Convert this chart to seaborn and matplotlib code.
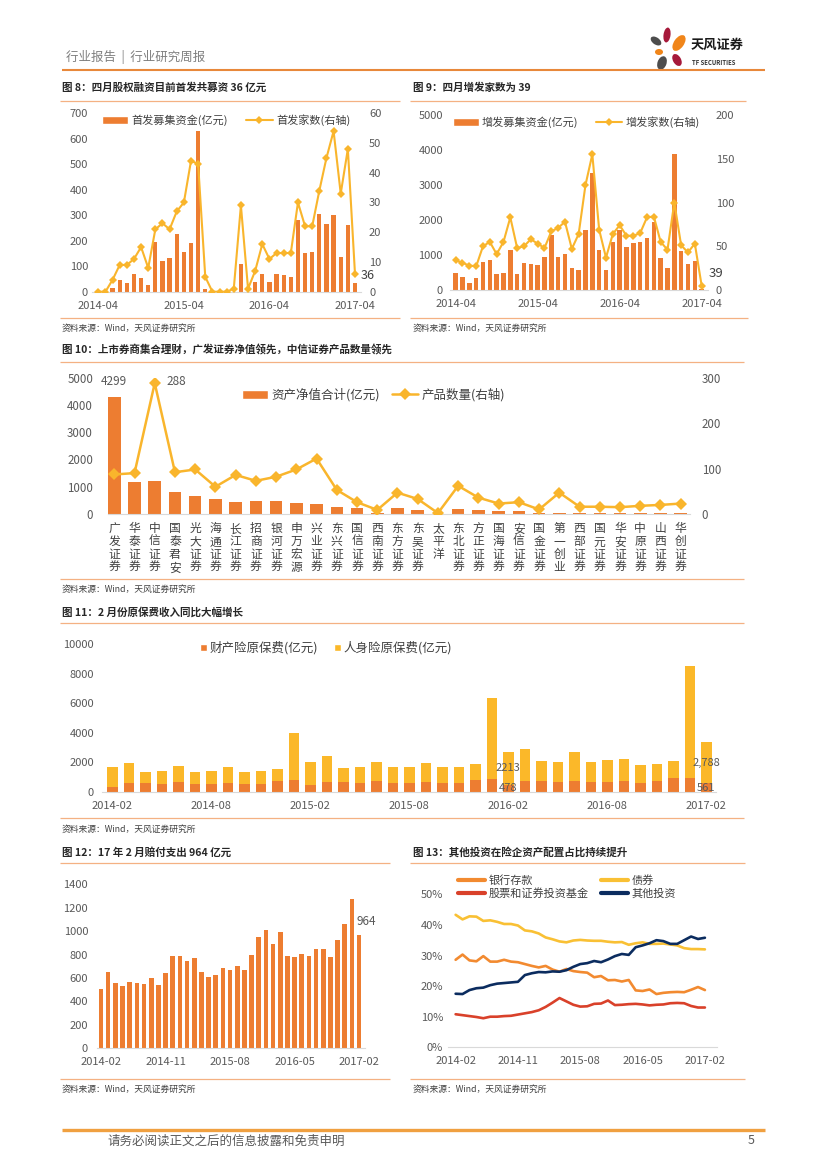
import numpy as np
import pandas as pd
import matplotlib
matplotlib.use("Agg")
import matplotlib.pyplot as plt
import seaborn as sns
from matplotlib.lines import Line2D
from matplotlib.patches import Patch, Ellipse

# ---------------- data ----------------
# Fig 8: IPO
ipo_months = pd.period_range("2014-04", "2017-04", freq="M").strftime("%Y-%m").tolist()
ipo_ticks = ["2014-04", "2015-04", "2016-04", "2017-04"]
ipo_amount = [0, 0, 15, 47, 35, 68, 55, 28, 195, 122, 133, 228, 155, 190, 630, 10, 0, 0, 0, 0,
              110, 0, 40, 70, 38, 68, 65, 58, 280, 152, 157, 305, 265, 300, 135, 262, 36]
ipo_count = [0, 0, 4, 9, 9, 11, 15, 8, 21, 23, 21, 27, 30, 44, 43, 5, 0, 0, 0, 1,
             29, 1, 7, 16, 11, 13, 13, 13, 30, 22, 22, 34, 45, 54, 33, 48, 6]

# Fig 9: secondary offerings
seo_months = ipo_months
seo_ticks = ipo_ticks
seo_amount = [495, 380, 210, 350, 810, 860, 450, 500, 1140, 470, 760, 750, 715, 950, 1570, 930,
              1030, 640, 570, 1710, 3330, 1140, 570, 1380, 1710, 1220, 1330, 1380, 1480, 1950,
              920, 620, 3900, 1120, 740, 830, 39]
seo_count = [34, 31, 28, 27, 50, 55, 41, 55, 83, 48, 50, 58, 53, 48, 67, 71, 78, 47, 64, 120,
             155, 69, 37, 64, 74, 62, 62, 65, 83, 84, 55, 46, 100, 51, 43, 53, 5]

# Fig 10: brokers' collective asset management
brokers = ["广发证券", "华泰证券", "中信证券", "国泰君安", "光大证券", "海通证券", "长江证券",
           "招商证券", "银河证券", "申万宏源", "兴业证券", "东兴证券", "国信证券", "西南证券",
           "东方证券", "东吴证券", "太平洋", "东北证券", "方正证券", "国海证券", "安信证券",
           "国金证券", "第一创业", "西部证券", "国元证券", "华安证券", "中原证券", "山西证券",
           "华创证券"]
broker_nav = [4299, 1190, 1210, 820, 672, 550, 452, 465, 465, 415, 367, 245, 232, 50, 220,
              147, 5, 170, 135, 120, 120, 35, 45, 35, 25, 20, 20, 20, 20]
broker_products = [87, 90, 288, 92, 98, 60, 86, 73, 82, 98, 122, 53, 26, 9, 47,
                   33, 2, 62, 36, 23, 26, 10, 47, 16, 16, 15, 18, 20, 23]

# Fig 11: premiums
prem_months = pd.period_range("2014-02", "2017-02", freq="M").strftime("%Y-%m").tolist()
prem_ticks = ["2014-02", "2014-08", "2015-02", "2015-08", "2016-02", "2016-08", "2017-02"]
prem_property = [340, 610, 610, 540, 660, 540, 540, 590, 520, 540, 720, 790, 450, 680, 660, 590,
                 720, 590, 590, 630, 570, 570, 770, 860, 478, 720, 720, 660, 720, 630, 630, 700,
                 590, 720, 930, 900, 561]
prem_life = [1360, 1340, 720, 860, 1060, 790, 880, 1110, 810, 860, 800, 3210, 1540, 1760, 950,
             1060, 1320, 1080, 1080, 1340, 1080, 1080, 1110, 5470, 2213, 2180, 1360, 1380, 1970,
             1380, 1500, 1490, 1240, 1130, 1150, 7630, 2788]

# Fig 12: claims
claims_months = prem_months
claims_ticks = ["2014-02", "2014-11", "2015-08", "2016-05", "2017-02"]
claims = [504, 649, 561, 532, 569, 555, 549, 598, 544, 640, 791, 791, 743, 771, 652, 609, 626,
          683, 669, 703, 669, 794, 950, 1013, 888, 993, 785, 777, 808, 791, 848, 848, 777, 925,
          1061, 1278, 964]

# Fig 13: asset allocation (%)
alloc_months = prem_months
alloc_ticks = claims_ticks
alloc_deposit = [28.6, 30.3, 28.4, 28.1, 29.8, 28.0, 28.0, 28.6, 28.0, 27.8, 27.2, 26.6, 26.1,
                 26.6, 25.4, 24.7, 25.6, 24.9, 24.6, 24.4, 22.9, 23.3, 21.9, 22.0, 21.5, 22.0,
                 18.6, 18.4, 18.9, 17.4, 17.8, 18.0, 18.1, 18.0, 18.8, 19.7, 18.7]
alloc_bond = [43.3, 41.8, 42.8, 42.7, 41.3, 41.5, 41.0, 40.3, 40.3, 39.8, 38.2, 37.9, 37.2, 35.9,
              35.3, 34.6, 34.3, 34.9, 35.1, 34.9, 34.8, 34.8, 34.5, 34.3, 34.4, 33.5, 34.0, 34.3,
              33.8, 33.8, 33.9, 33.6, 33.3, 32.4, 32.1, 32.1, 32.0]
alloc_equity = [10.8, 10.5, 10.2, 9.9, 9.5, 10.0, 10.0, 10.2, 10.3, 10.7, 11.1, 11.5, 12.1, 13.2,
                14.6, 16.1, 15.0, 13.9, 13.3, 13.4, 14.2, 14.3, 15.3, 13.8, 13.9, 14.1, 14.2,
                14.0, 13.7, 13.9, 14.0, 14.4, 14.5, 14.4, 13.5, 13.0, 13.0]
alloc_other = [17.5, 17.4, 18.7, 19.3, 19.5, 20.3, 20.8, 21.0, 21.2, 21.4, 23.6, 24.2, 24.6, 24.5,
               24.8, 24.7, 25.2, 26.3, 27.2, 27.5, 28.2, 27.8, 28.7, 29.8, 30.5, 30.2, 32.7, 33.3,
               34.0, 35.0, 34.7, 33.8, 33.8, 35.0, 36.2, 35.4, 35.8]

# ---------------- style ----------------
sns.set_theme(style="white")
plt.rcParams['font.family'] = ['Noto Sans CJK SC', 'DejaVu Sans']
plt.rcParams['axes.unicode_minus'] = False

ORANGE = '#ED7D31'
GOLD = '#F9B52C'
LIFE = '#FBB829'
GRAY = '#595959'
DARK = '#404040'
RULE = '#F4B183'
AXLINE = '#D9D9D9'

W, H = 827, 1169
fig = plt.figure(figsize=(W / 100, H / 100), dpi=100)
page = fig.add_axes([0, 0, 1, 1], zorder=-1)
page.set_xlim(0, W)
page.set_ylim(H, 0)
page.set_autoscale_on(False)
page.axis('off')


def px_axes(l, t, r, b):
    return fig.add_axes([l / W, 1 - b / H, (r - l) / W, (b - t) / H])


def ptxt(x, y, s, **kw):
    kw.setdefault('va', 'center')
    kw.setdefault('ha', 'left')
    page.text(x, y, s, **kw)


def prule(x0, x1, y, color=RULE, lw=0.9):
    page.plot([x0, x1], [y, y], color=color, lw=lw, solid_capstyle='butt')


def base_style(ax, lpad, fs=8):
    for s in ['top', 'right', 'left']:
        ax.spines[s].set_visible(False)
    ax.spines['bottom'].set_color(AXLINE)
    ax.spines['bottom'].set_linewidth(0.8)
    ax.tick_params(axis='both', length=0, labelsize=fs, labelcolor=GRAY)
    ax.tick_params(axis='y', pad=lpad)
    ax.tick_params(axis='x', pad=6.5)
    ax.set_xlabel('')
    ax.set_ylabel('')
    ax.grid(False)
    ax.patch.set_alpha(0)


def twin_style(ax2, rpad, fs=8):
    for s in ax2.spines.values():
        s.set_visible(False)
    ax2.tick_params(axis='y', length=0, labelsize=fs, labelcolor=GRAY, pad=rpad)
    ax2.set_xlabel('')
    ax2.set_ylabel('')
    ax2.grid(False)


def legend_at(ax, handles, x, y, fs, **kw):
    opts = dict(loc='center left', bbox_to_anchor=(x / W, 1 - y / H),
                bbox_transform=fig.transFigure, frameon=False, fontsize=fs,
                borderpad=0, borderaxespad=0, labelcolor=DARK)
    opts.update(kw)
    ax.legend(handles=handles, **opts)


TITLE_KW = dict(fontsize=7.6, fontweight='bold', color='#262626')
SRC_KW = dict(fontsize=6.3, color=DARK)
SOURCE = "资料来源：Wind，天风证券研究所"

# ---------------- header / footer ----------------
ptxt(66, 57, "行业报告  |  行业研究周报", fontsize=9, color='#7F7F7F')
prule(62, 765, 69.5, color='#E8883A', lw=1.5)
for (cx, cy, w, h, ang, col) in [(667, 35, 7, 15, 8, '#A6193A'),
                                 (679, 43, 10, 18, 35, '#F08519'),
                                 (656, 41, 7, 12, -55, '#4D4D4D'),
                                 (659, 52, 8, 6, 0, '#F08519'),
                                 (662, 63, 9, 14, 20, '#4D4D4D'),
                                 (677, 60, 8, 13, -30, '#A6193A')]:
    page.add_patch(Ellipse((cx, cy), w, h, angle=ang, color=col, lw=0))
ptxt(691, 45, "天风证券", fontsize=9.5, fontweight='bold', color='#1A1A1A')
ptxt(692, 62.5, "TF SECURITIES", fontsize=4.3, fontweight='bold', color='#333333')

prule(62, 765, 1130, color='#F0A040', lw=2.4)
ptxt(107, 1141, "请务必阅读正文之后的信息披露和免责申明", fontsize=9, color=GRAY)
ptxt(748, 1141, "5", fontsize=9, color=GRAY)

# ---------------- Fig 8 ----------------
ptxt(62, 88, "图 8：四月股权融资目前首发共募资 36 亿元", **TITLE_KW)
prule(60, 400, 100.5)
prule(60, 400, 318)
ptxt(62, 328, SOURCE, **SRC_KW)

ax = px_axes(91.9, 113.3, 361.4, 291.7)
df8 = pd.DataFrame({'month': ipo_months, 'amount': ipo_amount})
sns.barplot(data=df8, x='month', y='amount', color=ORANGE, saturation=1, width=0.6,
            linewidth=0, errorbar=None, ax=ax)
ax2 = ax.twinx()
sns.lineplot(x=np.arange(len(ipo_months)), y=ipo_count, ax=ax2, color=GOLD, marker='D',
             markersize=4.5, markeredgewidth=0, linewidth=1.5)
base_style(ax, 2.8)
twin_style(ax2, 5.5)
ax.set_xlim(-0.9, len(ipo_months) - 0.1)
ax.set_ylim(0, 700)
ax.set_yticks(range(0, 701, 100))
ax2.set_ylim(0, 60)
ax2.set_yticks(range(0, 61, 10))
ax.set_xticks([ipo_months.index(t) for t in ipo_ticks])
ax.set_xticklabels(ipo_ticks)
ax2.annotate(f"{ipo_amount[-1]}", xy=(len(ipo_months) - 1, ipo_count[-1]), xytext=(4, -1),
             textcoords='offset points', ha='left', va='center', fontsize=9, color=DARK)
legend_at(ax2, [Patch(facecolor=ORANGE, label='首发募集资金(亿元)'),
                Line2D([], [], color=GOLD, lw=1.5, marker='D', ms=4.5, mew=0, label='首发家数(右轴)')],
          101.7, 120, 8, ncol=2, handlelength=2.4, handletextpad=0.3, columnspacing=1.6)

# ---------------- Fig 9 ----------------
ptxt(413, 88, "图 9：四月增发家数为 39", **TITLE_KW)
prule(410, 746, 100.5)
prule(410, 748, 318)
ptxt(413, 328, SOURCE, **SRC_KW)

ax = px_axes(449.5, 115, 707.8, 290)
df9 = pd.DataFrame({'month': seo_months, 'amount': seo_amount})
sns.barplot(data=df9, x='month', y='amount', color=ORANGE, saturation=1, width=0.65,
            linewidth=0, errorbar=None, ax=ax)
ax2 = ax.twinx()
sns.lineplot(x=np.arange(len(seo_months)), y=seo_count, ax=ax2, color=GOLD, marker='D',
             markersize=4.5, markeredgewidth=0, linewidth=1.5)
base_style(ax, 4.7)
twin_style(ax2, 5.9)
ax.set_xlim(-0.9, len(seo_months) - 0.1)
ax.set_ylim(0, 5000)
ax.set_yticks(range(0, 5001, 1000))
ax2.set_ylim(0, 200)
ax2.set_yticks(range(0, 201, 50))
ax.set_xticks([seo_months.index(t) for t in seo_ticks])
ax.set_xticklabels(seo_ticks)
ax2.annotate(f"{seo_amount[-1]}", xy=(len(seo_months) - 1, seo_count[-1]), xytext=(5.3, 8.9),
             textcoords='offset points', ha='left', va='center', fontsize=9.5, color=DARK)
legend_at(ax2, [Patch(facecolor=ORANGE, label='增发募集资金(亿元)'),
                Line2D([], [], color=GOLD, lw=1.5, marker='D', ms=4.5, mew=0, label='增发家数(右轴)')],
          453, 122, 8, ncol=2, handlelength=2.3, handletextpad=0.3, columnspacing=1.6)

# ---------------- Fig 10 ----------------
ptxt(62, 350, "图 10：上市券商集合理财，广发证券净值领先，中信证券产品数量领先", **TITLE_KW)
prule(60, 744, 361.7)
prule(60, 744, 579)
ptxt(62, 589, SOURCE, **SRC_KW)

ax = px_axes(108, 377.7, 690, 514)
df10 = pd.DataFrame({'broker': brokers, 'nav': broker_nav})
sns.barplot(data=df10, x='broker', y='nav', color=ORANGE, saturation=1, width=0.62,
            linewidth=0, errorbar=None, ax=ax)
ax2 = ax.twinx()
sns.lineplot(x=np.arange(len(brokers)), y=broker_products, ax=ax2, color=GOLD, marker='D',
             markersize=6, markeredgewidth=0, linewidth=1.8)
base_style(ax, 10.8, fs=8.3)
twin_style(ax2, 8.4, fs=8.3)
ax.set_xlim(-0.31, 28.46)
ax.set_ylim(0, 5000)
ax.set_yticks(range(0, 5001, 1000))
ax2.set_ylim(0, 300)
ax2.set_yticks(range(0, 301, 100))
ax.set_xticks(range(len(brokers)))
ax.set_xticklabels(['\n'.join(b) for b in brokers], fontsize=8.5, linespacing=1.0, color=DARK)
ax.tick_params(axis='x', pad=6)
i_nav = int(np.argmax(broker_nav))
ax.annotate(f"{broker_nav[i_nav]}", xy=(i_nav, broker_nav[i_nav]), xytext=(0, 10.8),
            textcoords='offset points', ha='center', va='center', fontsize=8.5, color=GRAY)
i_pr = int(np.argmax(broker_products))
ax2.annotate(f"{broker_products[i_pr]}", xy=(i_pr, broker_products[i_pr]), xytext=(8.4, 1),
             textcoords='offset points', ha='left', va='center', fontsize=8.5, color=GRAY)
legend_at(ax2, [Patch(facecolor=ORANGE, label='资产净值合计(亿元)'),
                Line2D([], [], color=GOLD, lw=1.8, marker='D', ms=6, mew=0, label='产品数量(右轴)')],
          241.7, 395, 9, ncol=2, handlelength=2.1, handletextpad=0.25, columnspacing=1.0)

# ---------------- Fig 11 ----------------
ptxt(62, 612, "图 11：2 月份原保费收入同比大幅增长", **TITLE_KW)
prule(60, 744, 622.7)
prule(60, 744, 818)
ptxt(62, 829, SOURCE, **SRC_KW)

ax = px_axes(102.4, 644.3, 716.2, 791.7)
df11 = pd.DataFrame({'month': prem_months, 'property': prem_property, 'life': prem_life})
df11['total'] = df11['property'] + df11['life']
sns.barplot(data=df11, x='month', y='total', color=LIFE, saturation=1, width=0.64,
            linewidth=0, errorbar=None, ax=ax)
sns.barplot(data=df11, x='month', y='property', color=ORANGE, saturation=1, width=0.64,
            linewidth=0, errorbar=None, ax=ax)
base_style(ax, 6)
ax.set_xlim(-0.6, len(prem_months) - 0.4)
ax.set_ylim(0, 10000)
ax.set_yticks(range(0, 10001, 2000))
ax.set_xticks([prem_months.index(t) for t in prem_ticks])
ax.set_xticklabels(prem_ticks)
for m, fmt in [("2016-02", "{:.0f}"), ("2017-02", "{:,.0f}")]:
    i = prem_months.index(m)
    p, l = prem_property[i], prem_life[i]
    ax.text(i, p + l / 2, fmt.format(l), ha='center', va='center', fontsize=8, color=GRAY)
    ax.text(i, p / 2, f"{p}", ha='center', va='center', fontsize=8, color=GRAY)
legend_at(ax, [Patch(facecolor=ORANGE, label='财产险原保费(亿元)'),
               Patch(facecolor=LIFE, label='人身险原保费(亿元)')],
          200, 648, 9, ncol=2, handlelength=0.55, handleheight=0.55, handletextpad=0.2,
          columnspacing=1.3)

# ---------------- Fig 12 ----------------
ptxt(62, 852, "图 12：17 年 2 月赔付支出 964 亿元", **TITLE_KW)
prule(60, 390, 862.7)
prule(60, 390, 1079)
ptxt(62, 1089, SOURCE, **SRC_KW)

ax = px_axes(96.7, 884.3, 364.8, 1048.3)
df12 = pd.DataFrame({'month': claims_months, 'claims': claims})
sns.barplot(data=df12, x='month', y='claims', color=ORANGE, saturation=1, width=0.65,
            linewidth=0, errorbar=None, ax=ax)
base_style(ax, 6.2)
ax.set_xlim(-0.6, len(claims_months) - 0.2)
ax.set_ylim(0, 1400)
ax.set_yticks(range(0, 1401, 200))
ax.set_xticks([claims_months.index(t) for t in claims_ticks])
ax.set_xticklabels(claims_ticks)
ax.annotate(f"{claims[-1]}", xy=(len(claims) - 1, claims[-1]), xytext=(5.5, 10),
            textcoords='offset points', ha='center', va='center', fontsize=8.5, color=GRAY)

# ---------------- Fig 13 ----------------
ptxt(413, 852, "图 13：其他投资在险企资产配置占比持续提升", **TITLE_KW)
prule(410, 745, 862.7)
prule(410, 745, 1079)
ptxt(413, 1089, SOURCE, **SRC_KW)

ax = px_axes(448, 894.3, 716.7, 1047.3)
df13 = pd.DataFrame({'pos': np.arange(len(alloc_months)), '银行存款': alloc_deposit,
                     '债券': alloc_bond, '股票和证券投资基金': alloc_equity,
                     '其他投资': alloc_other})
c13 = {'银行存款': '#F28A30', '债券': '#F9C034', '股票和证券投资基金': '#D9412A', '其他投资': '#0B2C5F'}
for name in ['银行存款', '债券', '股票和证券投资基金', '其他投资']:
    sns.lineplot(data=df13, x='pos', y=name, ax=ax, color=c13[name], linewidth=1.9)
base_style(ax, 3.6)
ax.set_xlim(-1.1, 37.7)
ax.set_ylim(0, 50)
ax.set_yticks(range(0, 51, 10))
ax.set_yticklabels([f"{v}%" for v in range(0, 51, 10)])
ax.set_xticks([alloc_months.index(t) for t in alloc_ticks])
ax.set_xticklabels(alloc_ticks)
legend_at(ax, [Line2D([], [], color=c13[n], lw=3, label=n)
               for n in ['银行存款', '股票和证券投资基金', '债券', '其他投资']],
          458, 887, 8, ncol=2, handlelength=2.4, handletextpad=0.35, columnspacing=1.1,
          labelspacing=0.25)

fig.savefig("out.png", dpi=100)
